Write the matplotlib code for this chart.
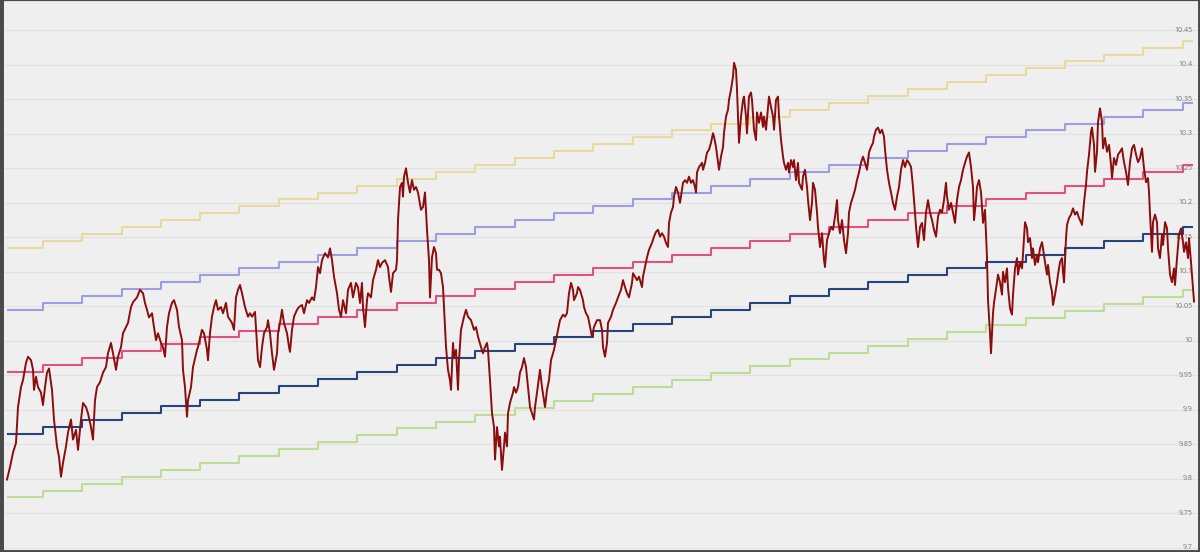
import matplotlib.pyplot as plt

# yearly trend (centre line) levels, level k runs from year k to year k+1
trend_levels = [9.865, 9.875, 9.885, 9.895, 9.905, 9.915, 9.925, 9.935, 9.945, 9.955,
                9.965, 9.975, 9.985, 9.995, 10.005, 10.015, 10.025, 10.035, 10.045, 10.055,
                10.065, 10.075, 10.085, 10.095, 10.105, 10.115, 10.125, 10.135, 10.145, 10.155,
                10.165]
first_year = 0.109
last_year = 30.24

# offset of each band from the trend line
band_names = ['low', 'mid', 'up1', 'up2']
band_offsets = [-0.092, 0.09, 0.18, 0.27]
band_colors = ['#bedc96', '#e2527e', '#9d9de4', '#e8da9e']
trend_color = '#27457c'

# the series (years, log value)
red_years = [
    0.084, 0.160, 0.237, 0.313, 0.364, 0.440, 0.491, 0.567, 0.618, 0.695,
    0.746, 0.771, 0.822, 0.873, 0.949, 1.000, 1.051, 1.102, 1.153, 1.229,
    1.280, 1.356, 1.407, 1.458, 1.509, 1.585, 1.636, 1.712, 1.763, 1.840,
    1.891, 1.967, 2.018, 2.094, 2.145, 2.221, 2.272, 2.323, 2.374, 2.450,
    2.527, 2.603, 2.654, 2.730, 2.781, 2.858, 2.908, 2.985, 3.036, 3.112,
    3.163, 3.239, 3.290, 3.392, 3.468, 3.545, 3.595, 3.646, 3.697, 3.774,
    3.824, 3.875, 3.926, 4.003, 4.053, 4.104, 4.155, 4.206, 4.282, 4.333,
    4.410, 4.461, 4.537, 4.562, 4.613, 4.664, 4.690, 4.766, 4.817, 4.919,
    # 5 - 10
    4.944, 5.046, 5.097, 5.173, 5.198, 5.249, 5.300, 5.351, 5.402, 5.453,
    5.529, 5.580, 5.656, 5.707, 5.809, 5.860, 5.911, 5.962, 6.013, 6.064,
    6.140, 6.216, 6.267, 6.318, 6.394, 6.445, 6.471, 6.522, 6.573, 6.624,
    6.700, 6.725, 6.776, 6.827, 6.878, 6.954, 6.980, 7.031, 7.081, 7.132,
    7.209, 7.260, 7.285, 7.336, 7.387, 7.463, 7.514, 7.590, 7.641, 7.718,
    7.768, 7.845, 7.896, 7.947, 7.998, 8.049, 8.099, 8.176, 8.252, 8.303,
    8.354, 8.405, 8.481, 8.532, 8.583, 8.634, 8.710, 8.761, 8.837, 8.888,
    8.964, 9.015, 9.066, 9.117, 9.142, 9.193, 9.244, 9.270, 9.346, 9.397,
    9.473, 9.524, 9.575, 9.626, 9.702, 9.779, 9.804, 9.855, 9.906, 9.982,
    10.008, 10.033, 10.084, 10.135,
    # 10 - 15
    10.160, 10.186, 10.237, 10.288, 10.338, 10.389, 10.440, 10.491, 10.542, 10.618,
    10.669, 10.720, 10.746, 10.771, 10.822, 10.847, 10.898, 10.949, 11.000, 11.026,
    11.076, 11.127, 11.178, 11.204, 11.255, 11.305, 11.356, 11.382, 11.433, 11.458,
    11.509, 11.560, 11.585, 11.636, 11.712, 11.763, 11.814, 11.891, 11.967, 12.018,
    12.069, 12.145, 12.196, 12.247, 12.298, 12.323, 12.374, 12.425, 12.476, 12.501,
    12.552, 12.603, 12.628, 12.679, 12.730, 12.756, 12.807, 12.832, 12.883, 12.959,
    12.985, 13.036, 13.087, 13.137, 13.188, 13.239, 13.290, 13.341, 13.392, 13.443,
    13.494, 13.519, 13.570, 13.621, 13.646, 13.697, 13.748, 13.774, 13.824, 13.875,
    13.926, 14.003, 14.053, 14.104, 14.155, 14.232, 14.282, 14.333, 14.384, 14.435,
    14.486, 14.511, 14.588, 14.613, 14.664, 14.740, 14.766, 14.817, 14.868, 14.919,
    14.969, 15.020, 15.097, 15.148,
    # 15 - 20
    15.173, 15.224, 15.249, 15.300, 15.351, 15.377, 15.453, 15.504, 15.580, 15.631,
    15.707, 15.758, 15.809, 15.860, 15.911, 15.987, 16.013, 16.064, 16.115, 16.165,
    16.242, 16.267, 16.318, 16.369, 16.420, 16.496, 16.547, 16.598, 16.649, 16.700,
    16.751, 16.802, 16.852, 16.903, 16.929, 16.980, 17.031, 17.056, 17.107, 17.158,
    17.209, 17.260, 17.285, 17.336, 17.387, 17.438, 17.489, 17.539, 17.590, 17.616,
    17.641, 17.692, 17.769, 17.794, 17.845, 17.896, 17.947, 17.997, 18.048, 18.074,
    18.125, 18.176, 18.201, 18.252, 18.303, 18.328, 18.379, 18.430, 18.455, 18.506,
    18.557, 18.583, 18.634, 18.659, 18.684, 18.710, 18.761, 18.812, 18.837, 18.888,
    18.913, 18.964, 19.015, 19.041, 19.092, 19.142, 19.168, 19.219, 19.270, 19.321,
    19.346, 19.397, 19.448, 19.473, 19.524, 19.575, 19.601, 19.651, 19.702, 19.728,
    19.779, 19.830, 19.855, 19.906, 19.957, 19.982, 20.033, 20.084, 20.109, 20.160,
    20.211, 20.237,
    # 20 - 25
    20.313, 20.338, 20.389, 20.440, 20.466, 20.517, 20.567, 20.593, 20.644, 20.695,
    20.720, 20.771, 20.822, 20.873, 20.898, 20.949, 21.000, 21.051, 21.102, 21.153,
    21.204, 21.229, 21.280, 21.331, 21.382, 21.433, 21.483, 21.509, 21.560, 21.611,
    21.662, 21.712, 21.763, 21.814, 21.865, 21.916, 21.967, 22.018, 22.069, 22.120,
    22.145, 22.196, 22.247, 22.298, 22.349, 22.399, 22.425, 22.476, 22.527, 22.578,
    22.628, 22.679, 22.730, 22.781, 22.832, 22.883, 22.934, 22.985, 23.036, 23.087,
    23.137, 23.188, 23.214, 23.265, 23.316, 23.366, 23.417, 23.468, 23.519, 23.570,
    23.621, 23.672, 23.723, 23.774, 23.824, 23.875, 23.926, 23.977, 24.003, 24.053,
    24.104, 24.155, 24.206, 24.257, 24.308, 24.359, 24.410, 24.461, 24.511, 24.562,
    24.613, 24.664, 24.690, 24.740, 24.766, 24.817, 24.868, 24.919, 24.969, 25.020,
    25.046, 25.097, 25.122, 25.173, 25.198,
    # 25 - end
    25.275, 25.300, 25.351, 25.402, 25.427, 25.478, 25.529, 25.555, 25.606, 25.656,
    25.682, 25.733, 25.784, 25.809, 25.860, 25.911, 25.936, 25.987, 26.038, 26.064,
    26.115, 26.165, 26.191, 26.242, 26.293, 26.318, 26.369, 26.420, 26.445, 26.496,
    26.547, 26.573, 26.623, 26.674, 26.700, 26.751, 26.802, 26.827, 26.878, 26.929,
    26.954, 26.980, 27.031, 27.056, 27.107, 27.158, 27.209, 27.260, 27.310, 27.361,
    27.412, 27.438, 27.489, 27.539, 27.565, 27.616, 27.667, 27.692, 27.743, 27.769,
    27.819, 27.845, 27.896, 27.947, 27.972, 28.023, 28.074, 28.125, 28.176, 28.201,
    28.252, 28.303, 28.354, 28.405, 28.455, 28.506, 28.557, 28.608, 28.659, 28.710,
    28.761, 28.812, 28.863, 28.913, 28.964, 29.015, 29.066, 29.117, 29.142, 29.168,
    29.219, 29.244, 29.295, 29.346, 29.372, 29.422, 29.473, 29.499, 29.550, 29.601,
    29.626, 29.677, 29.728, 29.779, 29.804, 29.855, 29.906, 29.957, 30.008, 30.033,
    30.084, 30.135, 30.160, 30.211, 30.262, 30.288,
]
red_values = [
    9.799, 9.817, 9.838, 9.852, 9.904, 9.933, 9.943, 9.968, 9.977, 9.972,
    9.958, 9.929, 9.948, 9.933, 9.925, 9.907, 9.933, 9.954, 9.960, 9.929,
    9.886, 9.847, 9.832, 9.803, 9.823, 9.847, 9.867, 9.886, 9.857, 9.871,
    9.842, 9.886, 9.910, 9.904, 9.895, 9.875, 9.857, 9.914, 9.933, 9.940,
    9.954, 9.962, 9.982, 9.997, 9.982, 9.958, 9.977, 9.991, 10.011, 10.020,
    10.026, 10.049, 10.056, 10.063, 10.074, 10.069, 10.055, 10.045, 10.034, 10.040,
    10.020, 10.001, 10.011, 9.997, 9.991, 9.977, 10.020, 10.040, 10.055, 10.059,
    10.045, 10.020, 10.001, 9.958, 9.933, 9.890, 9.914, 9.933, 9.962, 9.987,
    # 5 - 10
    9.991, 10.016, 10.011, 9.987, 9.972, 10.011, 10.035, 10.049, 10.059, 10.045,
    10.049, 10.040, 10.055, 10.035, 10.026, 10.016, 10.063, 10.074, 10.081, 10.069,
    10.049, 10.035, 10.040, 10.035, 10.042, 9.997, 9.972, 9.962, 9.991, 10.011,
    10.020, 10.030, 10.011, 9.982, 9.958, 9.982, 10.011, 10.026, 10.045, 10.026,
    10.011, 9.991, 9.984, 10.016, 10.035, 10.045, 10.049, 10.052, 10.040, 10.059,
    10.055, 10.063, 10.059, 10.078, 10.107, 10.098, 10.117, 10.127, 10.121, 10.134,
    10.117, 10.093, 10.069, 10.045, 10.035, 10.059, 10.040, 10.074, 10.084, 10.063,
    10.084, 10.078, 10.055, 10.084, 10.049, 10.020, 10.059, 10.069, 10.063, 10.088,
    10.103, 10.117, 10.107, 10.113, 10.117, 10.107, 10.093, 10.071, 10.098, 10.103,
    10.117, 10.175, 10.223, 10.229,
    # 10 - 15
    10.209, 10.238, 10.250, 10.229, 10.215, 10.233, 10.219, 10.223, 10.215, 10.190,
    10.194, 10.215, 10.186, 10.161, 10.117, 10.063, 10.121, 10.136, 10.127, 10.103,
    10.103, 10.098, 10.078, 10.049, 9.991, 9.958, 9.943, 9.929, 9.997, 9.977,
    9.987, 9.929, 9.972, 10.016, 10.035, 10.045, 10.035, 10.030, 10.016, 10.020,
    10.006, 9.991, 9.982, 9.991, 9.997, 9.987, 9.943, 9.895, 9.875, 9.828,
    9.875, 9.847, 9.861, 9.813, 9.847, 9.867, 9.847, 9.895, 9.910, 9.925,
    9.933, 9.925, 9.933, 9.954, 9.962, 9.975, 9.962, 9.933, 9.904, 9.895,
    9.886, 9.904, 9.925, 9.948, 9.958, 9.933, 9.914, 9.904, 9.929, 9.943,
    9.972, 9.987, 10.001, 10.016, 10.030, 10.038, 10.035, 10.040, 10.069, 10.084,
    10.074, 10.059, 10.069, 10.078, 10.074, 10.059, 10.049, 10.040, 10.035, 10.020,
    10.006, 10.020, 10.030, 10.030,
    # 15 - 20
    10.030, 10.016, 9.991, 9.977, 9.997, 10.026, 10.035, 10.045, 10.055, 10.063,
    10.074, 10.088, 10.078, 10.069, 10.063, 10.084, 10.098, 10.093, 10.088, 10.093,
    10.078, 10.093, 10.107, 10.121, 10.132, 10.142, 10.151, 10.158, 10.161, 10.151,
    10.156, 10.151, 10.142, 10.136, 10.171, 10.186, 10.194, 10.209, 10.223, 10.215,
    10.200, 10.219, 10.229, 10.233, 10.229, 10.238, 10.229, 10.233, 10.223, 10.215,
    10.244, 10.252, 10.258, 10.248, 10.258, 10.273, 10.277, 10.287, 10.301, 10.296,
    10.281, 10.258, 10.248, 10.267, 10.281, 10.301, 10.325, 10.335, 10.349, 10.364,
    10.383, 10.403, 10.393, 10.364, 10.325, 10.287, 10.325, 10.349, 10.354, 10.325,
    10.301, 10.354, 10.360, 10.349, 10.306, 10.291, 10.331, 10.316, 10.331, 10.310,
    10.325, 10.306, 10.339, 10.354, 10.339, 10.325, 10.306, 10.349, 10.354, 10.325,
    10.291, 10.267, 10.258, 10.248, 10.258, 10.244, 10.262, 10.252, 10.262, 10.233,
    10.258, 10.229,
    # 20 - 25
    10.219, 10.238, 10.248, 10.223, 10.204, 10.175, 10.200, 10.229, 10.219, 10.186,
    10.165, 10.136, 10.156, 10.117, 10.107, 10.146, 10.156, 10.165, 10.161, 10.180,
    10.204, 10.175, 10.156, 10.175, 10.146, 10.127, 10.156, 10.186, 10.200, 10.209,
    10.219, 10.233, 10.244, 10.258, 10.267, 10.258, 10.248, 10.273, 10.281, 10.287,
    10.296, 10.306, 10.309, 10.301, 10.306, 10.296, 10.277, 10.248, 10.229, 10.215,
    10.200, 10.190, 10.209, 10.223, 10.248, 10.262, 10.252, 10.262, 10.258, 10.252,
    10.223, 10.186, 10.165, 10.136, 10.165, 10.171, 10.146, 10.186, 10.204, 10.186,
    10.175, 10.161, 10.151, 10.180, 10.190, 10.186, 10.204, 10.229, 10.209, 10.190,
    10.200, 10.186, 10.171, 10.204, 10.223, 10.233, 10.248, 10.258, 10.267, 10.273,
    10.252, 10.223, 10.175, 10.204, 10.223, 10.233, 10.215, 10.171, 10.190, 10.121,
    10.059, 10.011, 9.982, 10.040, 10.055,
    # 25 - end
    10.085, 10.096, 10.085, 10.067, 10.100, 10.085, 10.105, 10.077, 10.047, 10.038,
    10.067, 10.105, 10.120, 10.096, 10.114, 10.105, 10.125, 10.172, 10.163, 10.143,
    10.149, 10.120, 10.134, 10.110, 10.125, 10.114, 10.134, 10.143, 10.134, 10.114,
    10.096, 10.110, 10.085, 10.071, 10.052, 10.067, 10.085, 10.096, 10.114, 10.120,
    10.100, 10.085, 10.149, 10.168, 10.178, 10.183, 10.192, 10.183, 10.187, 10.178,
    10.172, 10.168, 10.201, 10.226, 10.245, 10.270, 10.303, 10.309, 10.284, 10.245,
    10.274, 10.317, 10.337, 10.317, 10.279, 10.294, 10.274, 10.284, 10.255, 10.236,
    10.265, 10.255, 10.270, 10.274, 10.279, 10.259, 10.245, 10.226, 10.259, 10.279,
    10.284, 10.270, 10.259, 10.265, 10.279, 10.250, 10.230, 10.236, 10.216, 10.183,
    10.129, 10.172, 10.183, 10.172, 10.134, 10.120, 10.154, 10.139, 10.172, 10.163,
    10.134, 10.096, 10.085, 10.105, 10.081, 10.120, 10.154, 10.163, 10.143, 10.129,
    10.143, 10.120, 10.149, 10.114, 10.077, 10.057,
]

y_ticks = [9.7, 9.75, 9.8, 9.85, 9.9, 9.95, 10.0, 10.05, 10.1, 10.15,
           10.2, 10.25, 10.3, 10.35, 10.4, 10.45]
y_tick_labels = ['9.7', '9.75', '9.8', '9.85', '9.9', '9.95', '10', '10.05', '10.1', '10.15',
                 '10.2', '10.25', '10.3', '10.35', '10.4', '10.45']

fig = plt.figure(figsize=(12, 5.52), dpi=100)
ax = fig.add_axes([0, 0, 1, 1])
ax.set_facecolor('#efefef')
fig.patch.set_facecolor('#efefef')

# grid
for v in y_ticks:
    ax.axhline(v, color='#e2e2e2', lw=0.9, zorder=1)

step_x = [first_year] + list(range(1, len(trend_levels))) + [last_year]
step_mid = trend_levels + [trend_levels[-1]]

for off, col in zip(band_offsets, band_colors):
    ax.step(step_x, [v + off for v in step_mid], where='post', color=col, lw=1.5, zorder=3)
ax.step(step_x, step_mid, where='post', color=trend_color, lw=1.5, zorder=3)

# labels sit inside the plot on the right
for v, lab in zip(y_ticks, y_tick_labels):
    ax.text(0.9935, v, lab, transform=ax.get_yaxis_transform(), ha='right', va='center',
            fontsize=5, color='#767676', family='Open Sans', zorder=2)

ax.plot(red_years, red_values, color='#8b0d0d', lw=1.4, zorder=4)

ax.set_xlim(-0.094, 30.44)
ax.set_ylim(9.694, 10.494)
ax.set_xticks([])
ax.set_yticks([])

for side, w in [('left', 5), ('top', 1.6), ('bottom', 2.8), ('right', 2.8)]:
    ax.spines[side].set_linewidth(w)
    ax.spines[side].set_color('#4a4a4a')

fig.savefig('out.png', dpi=100, facecolor=fig.get_facecolor())
